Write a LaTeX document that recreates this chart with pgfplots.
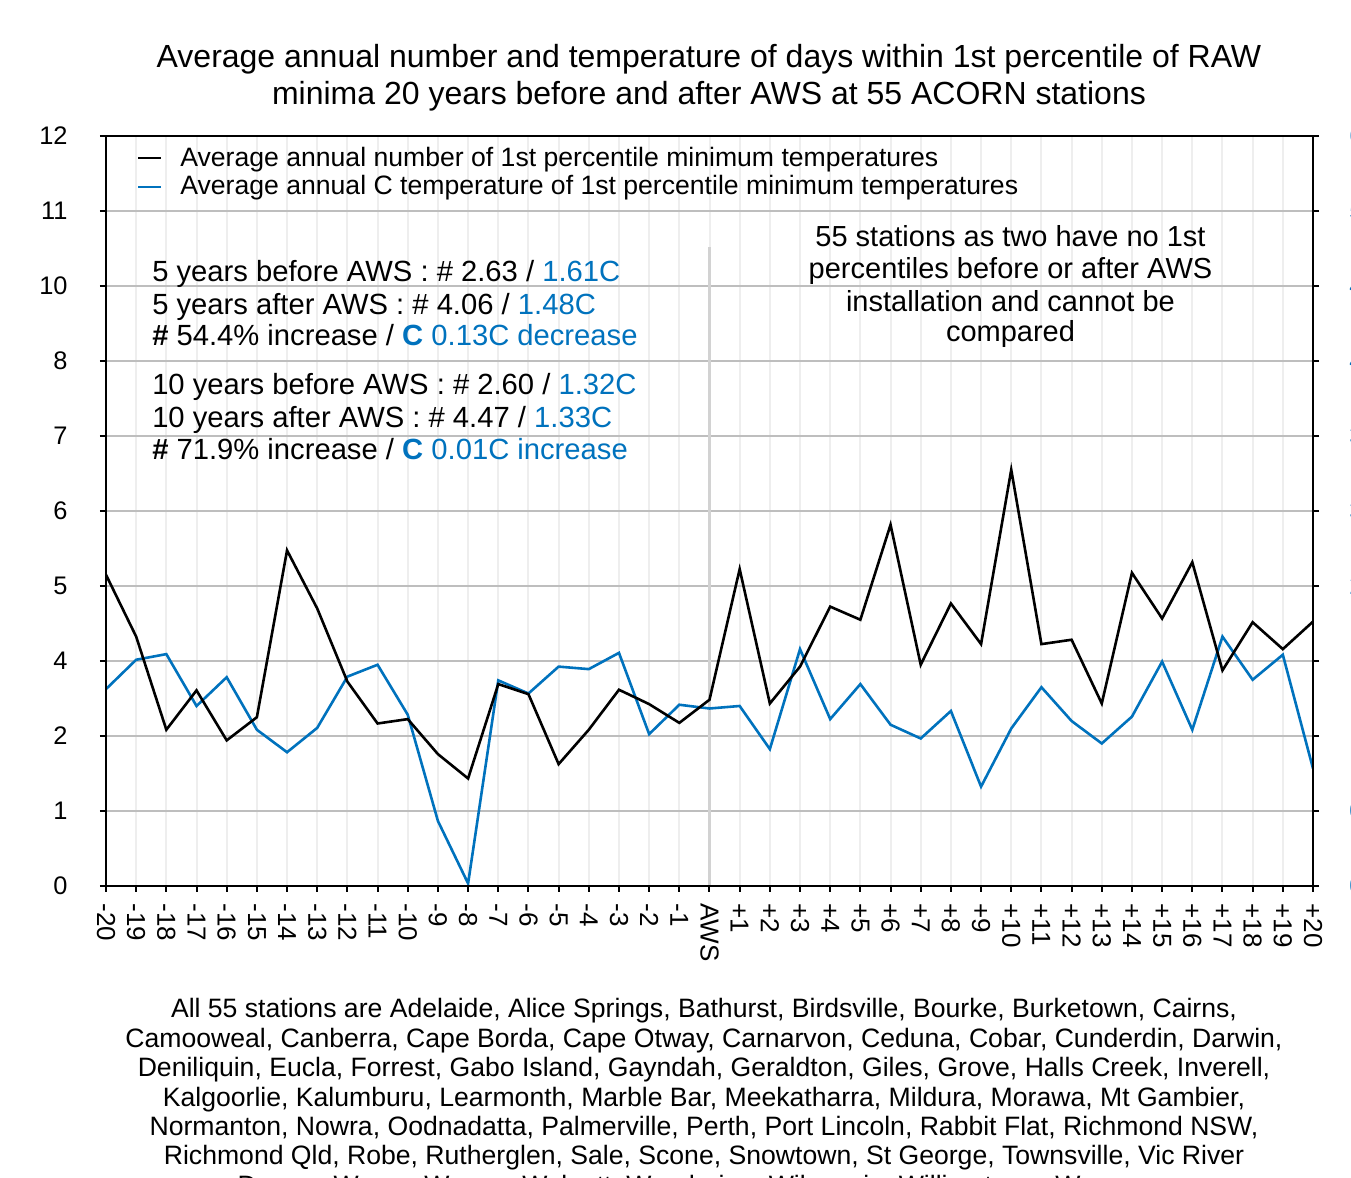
\documentclass[border=0pt]{standalone}
\usepackage{pgfplots}
\pgfplotsset{compat=1.18}
\usepackage{pgfplotstable}
\usepackage{fontspec}
\setmainfont{Liberation Sans}
\definecolor{serblue}{RGB}{0,114,189}
\definecolor{gridgray}{RGB}{190,190,190}
\definecolor{vgrid}{RGB}{238,238,238}
\definecolor{awsgray}{RGB}{210,210,210}

\pgfplotstableread{
x n
-20 4.98
-19 3.99
-18 2.50
-17 3.13
-16 2.33
-15 2.70
-14 5.37
-13 4.44
-12 3.27
-11 2.60
-10 2.67
-9 2.11
-8 1.72
-7 3.23
-6 3.07
-5 1.95
-4 2.50
-3 3.14
-2 2.91
-1 2.61
0 2.98
1 5.07
2 2.92
3 3.51
4 4.47
5 4.26
6 5.78
7 3.54
8 4.52
9 3.87
10 6.66
11 3.87
12 3.94
13 2.92
14 5.01
15 4.28
16 5.18
17 3.45
18 4.22
19 3.79
20 4.23
}\blackdata

\pgfplotstableread{
x t
-20 1.575
-19 1.81
-18 1.855
-17 1.44
-16 1.67
-15 1.25
-14 1.07
-13 1.265
-12 1.675
-11 1.77
-10 1.37
-9 0.52
-8 0.02
-7 1.645
-6 1.54
-5 1.755
-4 1.735
-3 1.865
-2 1.215
-1 1.45
0 1.42
1 1.44
2 1.095
3 1.895
4 1.335
5 1.615
6 1.29
7 1.18
8 1.40
9 0.795
10 1.26
11 1.59
12 1.32
13 1.14
14 1.355
15 1.795
16 1.25
17 1.995
18 1.65
19 1.85
20 0.94
}\bluedata

\begin{document}
\begin{tikzpicture}[x=1pt,y=1pt]
% right axis (temperature, blue) with grids
\begin{axis}[
  at={(0pt,0pt)}, anchor=south west,
  scale only axis, width=603.5pt, height=375pt,
  xmin=-20, xmax=20, ymin=0, ymax=6,
  xtick={-20,...,20}, xticklabels=\empty, xtick style={draw=none},
  xmajorgrids, x grid style={vgrid, line width=1pt},
  ytick={0,0.6,1.2,1.8,2.4,3,3.6,4.2,4.8,5.4,6},
  yticklabels={0.0,0.6,1.2,1.8,2.4,3.0,3.6,4.2,4.8,5.4,6.0},
  ymajorgrids, y grid style={gridgray, line width=0.6pt},
  ytick pos=right, tick align=outside, major tick length=3pt,
  ytick style={black, line width=1pt},
  axis line style={line width=1pt},
  yticklabel style={anchor=west, inner sep=0pt, text=serblue, font=\fontsize{12.7}{15}\selectfont},
  yticklabel shift=15pt,
  /pgf/number format/assume math mode=true,
]
\addplot[forget plot, color=awsgray, line width=1.2pt] coordinates {(0,0) (0,5.115)};
\addplot[serblue, line width=1.3pt] table[x=x, y=t] {\bluedata};
\end{axis}
% left axis (number, black)
\begin{axis}[
  at={(0pt,0pt)}, anchor=south west,
  scale only axis, width=603.5pt, height=375pt,
  xmin=-20, xmax=20, ymin=0, ymax=12,
  xtick={-20,...,20},
  xticklabels={-20,-19,-18,-17,-16,-15,-14,-13,-12,-11,-10,-9,-8,-7,-6,-5,-4,-3,-2,-1,AWS,+1,+2,+3,+4,+5,+6,+7,+8,+9,+10,+11,+12,+13,+14,+15,+16,+17,+18,+19,+20},
  ytick={0,1.2,2.4,3.6,4.8,6,7.2,8.4,9.6,10.8,12},
  yticklabels={0,1,2,4,5,6,7,8,10,11,12},
  xtick pos=left, ytick pos=left, tick align=outside, major tick length=3pt,
  tick style={black, line width=1pt},
  axis line style={line width=1pt},
  yticklabel style={anchor=east, inner sep=0pt, font=\fontsize{12.7}{15}\selectfont},
  xticklabel style={rotate=-90, anchor=west, inner sep=0pt, font=\fontsize{13}{15}\selectfont},
  xticklabel shift=5.5pt,
  yticklabel shift=16pt,
  /pgf/number format/assume math mode=true,
  legend style={at={(axis cs:-18.96,11.82)}, anchor=north west, draw=none, fill=none,
    inner sep=0pt, outer sep=0pt, row sep=3pt, column sep=9pt,
    nodes={inner sep=0pt}, font=\fontsize{13.3}{15}\selectfont},
  legend cell align=left,
  legend image code/.code={\draw[#1, line width=1pt] (0pt,0pt) -- (11.5pt,0pt);},
]
\addplot[black, line width=1.3pt] table[x=x, y=n] {\blackdata};
\addlegendentry{Average annual number of 1st percentile minimum temperatures}
\addlegendimage{serblue, line width=1pt}
\addlegendentry{Average annual C temperature of 1st percentile minimum temperatures}

\begin{scope}[every node/.style={anchor=base west, inner sep=0pt, font=\fontsize{14.6}{16}\selectfont}]
\node at (axis cs:-18.48,9.67) {5 years before AWS : \# 2.63 / \textcolor{serblue}{1.61C}};
\node at (axis cs:-18.48,9.15) {5 years after AWS : \# 4.06 / \textcolor{serblue}{1.48C}};
\node at (axis cs:-18.48,8.64) {\textbf{\#} 54.4\% increase / \textcolor{serblue}{\textbf{C} 0.13C decrease}};
\node at (axis cs:-18.48,7.86) {10 years before AWS : \# 2.60 / \textcolor{serblue}{1.32C}};
\node at (axis cs:-18.48,7.34) {10 years after AWS : \# 4.47 / \textcolor{serblue}{1.33C}};
\node at (axis cs:-18.48,6.83) {\textbf{\#} 71.9\% increase / \textcolor{serblue}{\textbf{C} 0.01C increase}};
\end{scope}
\begin{scope}[every node/.style={anchor=base, inner sep=0pt, font=\fontsize{14.5}{16}\selectfont}]
\node at (axis cs:9.975,10.229) {55 stations as two have no 1st};
\node at (axis cs:9.975,9.712) {percentiles before or after AWS};
\node at (axis cs:9.975,9.189) {installation and cannot be};
\node at (axis cs:9.975,8.709) {compared};
\end{scope}
\end{axis}

% title
\begin{scope}[every node/.style={anchor=base, inner sep=0pt, font=\fontsize{16}{19}\selectfont}]
\node at (301.5pt,409.3pt) {Average annual number and temperature of days within 1st percentile of RAW};
\node at (301.5pt,390.8pt) {minima 20 years before and after AWS at 55 ACORN stations};
\end{scope}
% bottom text
\begin{scope}[every node/.style={anchor=base, inner sep=0pt, font=\fontsize{13.3}{15}\selectfont}]
\node at (299pt,-66pt) {All 55 stations are Adelaide, Alice Springs, Bathurst, Birdsville, Bourke, Burketown, Cairns,};
\node at (299pt,-80.7pt) {Camooweal, Canberra, Cape Borda, Cape Otway, Carnarvon, Ceduna, Cobar, Cunderdin, Darwin,};
\node at (299pt,-95.4pt) {Deniliquin, Eucla, Forrest, Gabo Island, Gayndah, Geraldton, Giles, Grove, Halls Creek, Inverell,};
\node at (299pt,-110.1pt) {Kalgoorlie, Kalumburu, Learmonth, Marble Bar, Meekatharra, Mildura, Morawa, Mt Gambier,};
\node at (299pt,-124.8pt) {Normanton, Nowra, Oodnadatta, Palmerville, Perth, Port Lincoln, Rabbit Flat, Richmond NSW,};
\node at (299pt,-139.5pt) {Richmond Qld, Robe, Rutherglen, Sale, Scone, Snowtown, St George, Townsville, Vic River};
\node at (299pt,-154.2pt) {Downs, Wagga Wagga, Walgett, Wandering, Wilcannia, Williamtown, Woomera};
\end{scope}
\pgfresetboundingbox
\useasboundingbox (-53pt,-146pt) rectangle (622.5pt,443pt);
\end{tikzpicture}
\end{document}
